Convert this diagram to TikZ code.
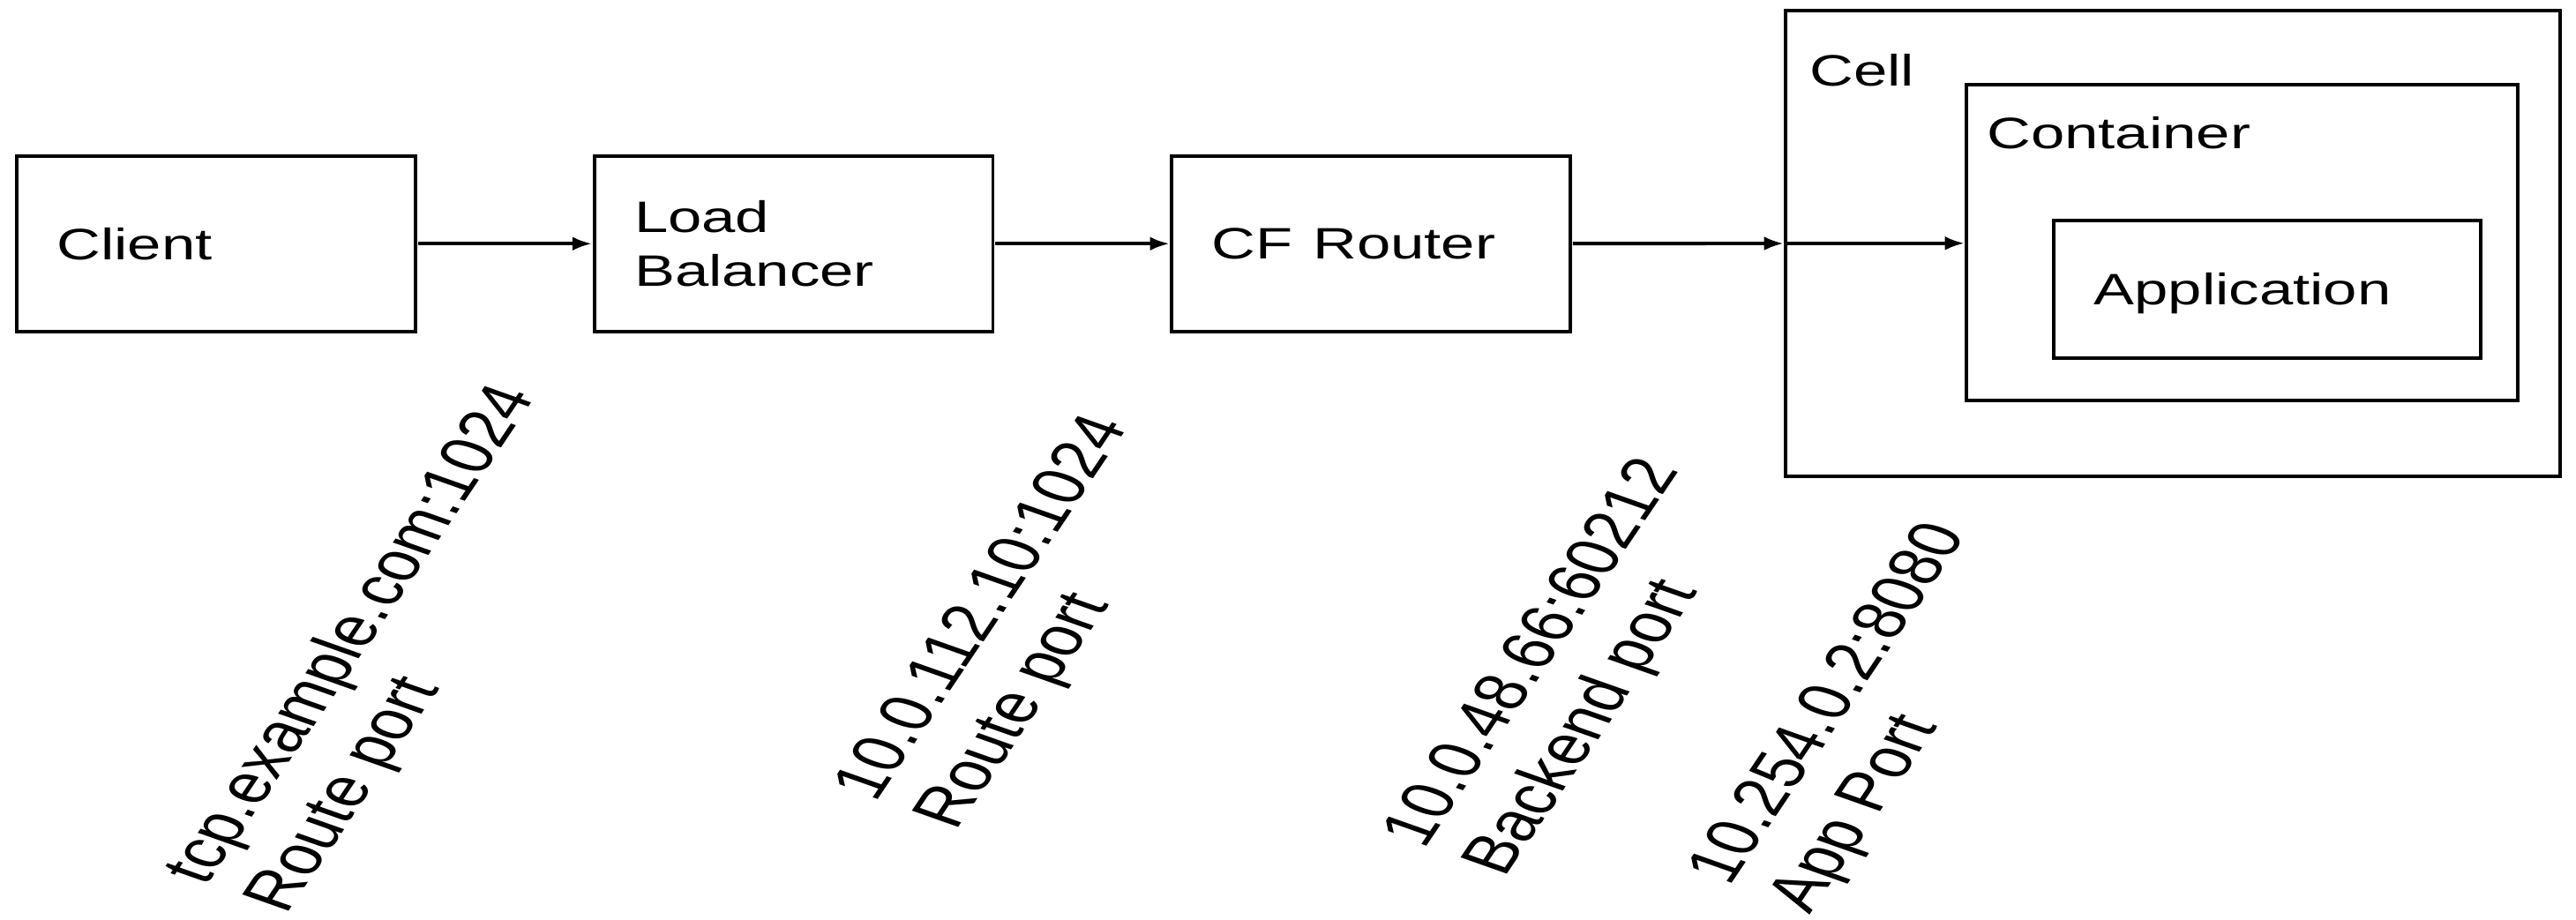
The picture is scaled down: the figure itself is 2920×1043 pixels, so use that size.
\documentclass[tikz,border=0pt]{standalone}
\usepackage{fontspec}
\setmainfont{Liberation Sans}
\usetikzlibrary{arrows.meta}
\begin{document}
\begin{tikzpicture}[x=0.007246cm,y=-0.01cm,xscale=1.38,transform shape]

  \tikzset{box/.style={draw,line width=1.1pt,inner xsep=0.33cm,text width=2.615cm,
      minimum height=1.99cm,align=left,font=\fontsize{14.2}{17.4}\selectfont},
    boxframe/.style={draw,line width=1.1pt},
    txt/.style={inner sep=0pt,anchor=north west,font=\fontsize{14.2}{17.4}\selectfont},
    addr/.style={rotate=64,align=left,anchor=south west,inner sep=0pt,
      font=\fontsize{17.5}{21}\selectfont}}
  \useasboundingbox (0,0) rectangle (2920,1043);
  \foreach \i/\name/\txt in {0/client/Client,1/lb/{Load\\Balancer},2/router/CF Router} {
    \node[box] (\name) at (245+654.5*\i,276.5) {\txt};
  }
  \node[boxframe,minimum width=6.362cm,minimum height=5.28cm] (cell) at (2463,276) {};
  \node[boxframe,minimum width=4.529cm,minimum height=3.58cm] (container) at (2541.5,275) {};
  \node[box,text width=2.847cm,text depth=0pt,minimum height=1.56cm] (app) at (2570,328) {Application};
  \node[txt] (celltxt) at (2050.5,61) {Cell};
  \node[txt] (containertxt) at (2251.5,132) {Container};
  \foreach \a/\b in {client/lb,lb/router,router/cell}
    \path[->,draw,line width=1.1pt,>={Latex[length=6.3pt,width=4.5pt]}] (\a) -- (\b);
  \path[->,draw,line width=1.1pt,>={Latex[length=6.3pt,width=4.5pt]}] (cell.west) -- (container.west |- cell.west);
  \foreach \name/\px/\py/\txt in {route/341/1045/{tcp.example.com:1024\\Route port},
      lbport/1100/950/{10.0.112.10:1024\\Route port},
      backend/1722/1003/{10.0.48.66:60212\\Backend port},
      appport/2068/1045/{10.254.0.2:8080\\App Port}} {
    \node[addr] (\name) at (\px,\py) {\txt};
  }
\end{tikzpicture}
\end{document}
